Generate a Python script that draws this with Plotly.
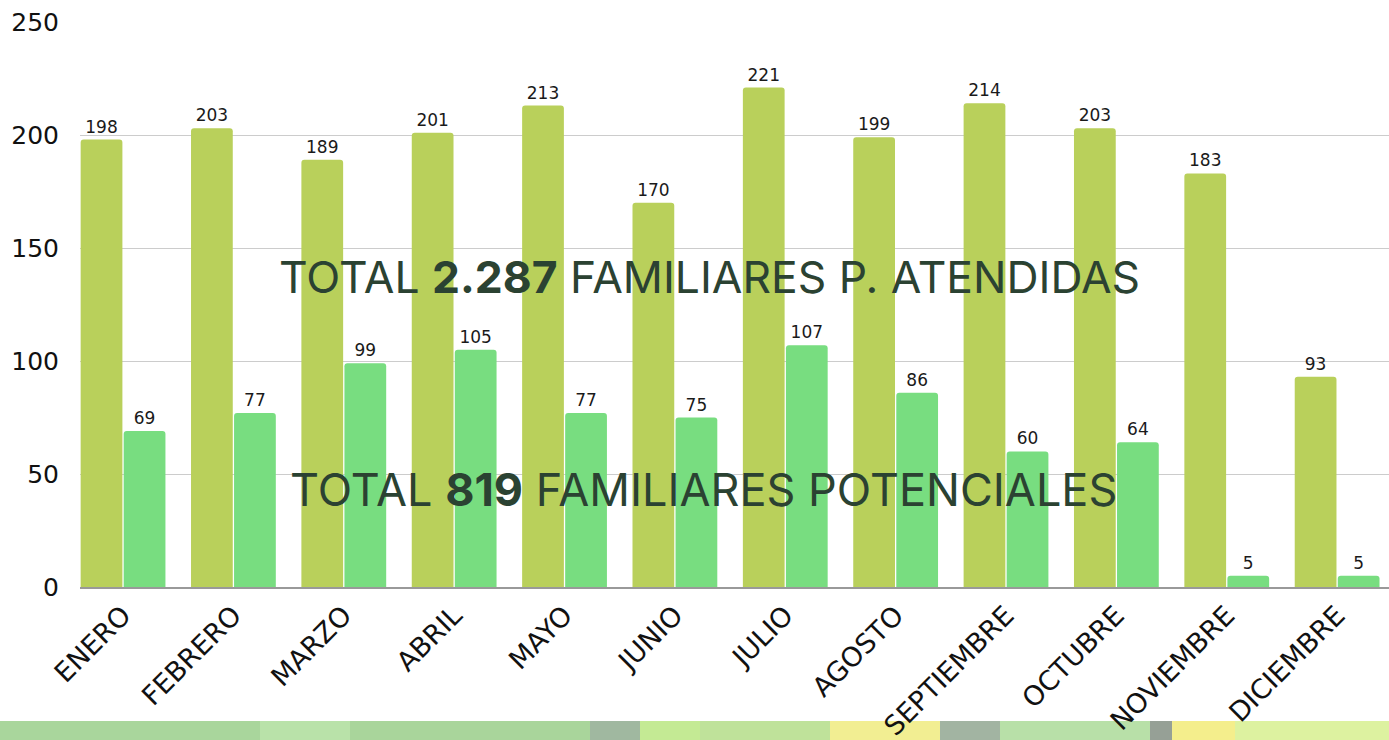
import plotly.graph_objects as go

meses = ["ENERO", "FEBRERO", "MARZO", "ABRIL", "MAYO", "JUNIO", "JULIO",
         "AGOSTO", "SEPTIEMBRE", "OCTUBRE", "NOVIEMBRE", "DICIEMBRE"]
atendidas = [198, 203, 189, 201, 213, 170, 221, 199, 214, 203, 183, 93]
potenciales = [69, 77, 99, 105, 77, 75, 107, 86, 60, 64, 5, 5]
y_ticks = [0, 50, 100, 150, 200, 250]

total_atendidas = "2.287"
total_potenciales = "819"

COL_A = "#b9d05b"
COL_B = "#78dd80"
TXT = "#2b4232"
FONT = "DejaVu Sans"

fig = go.Figure()
for vals, col in [(atendidas, COL_A), (potenciales, COL_B)]:
    fig.add_trace(go.Bar(
        x=meses, y=vals, marker=dict(color=col, cornerradius=3, line=dict(width=0)),
        text=[str(v) for v in vals], textposition="outside", cliponaxis=False,
        textfont=dict(family=FONT, size=17, color="#1a1a1a"),
        hoverinfo="skip",
    ))

fig.add_annotation(
    x=0.5, xref="paper", y=137, yref="y", showarrow=False,
    text=f"TOTAL <b>{total_atendidas}</b> FAMILIARES P. ATENDIDAS",
    font=dict(family="Inter", size=44.4, color=TXT), xshift=-25,
)
fig.add_annotation(
    x=0.5, xref="paper", y=43, yref="y", showarrow=False,
    text=f"TOTAL <b>{total_potenciales}</b> FAMILIARES POTENCIALES",
    font=dict(family="Inter", size=45, color=TXT), xshift=-31,
)

# decorative strip at the bottom (background image approximation)
strip = [(0, 260, "#a9d69c"), (260, 350, "#b9e2a9"), (350, 590, "#a9d59b"),
         (590, 640, "#a0b8a0"), (640, 700, "#c4ea94"), (700, 830, "#bfe29a"),
         (830, 940, "#f2ee92"), (940, 1000, "#a2b4a2"), (1000, 1150, "#b8e0a8"),
         (1150, 1172, "#96a096"), (1172, 1235, "#f4ee8c"), (1235, 1389, "#ddf2a0")]
for x0, x1, c in strip:
    fig.add_shape(type="rect", xref="paper", yref="paper",
                  x0=(x0 - 80) / 1309, x1=(x1 - 80) / 1309,
                  y0=-(740 - 587) / 565, y1=-(721 - 587) / 565,
                  fillcolor=c, line=dict(width=0), layer="below")

fig.update_layout(
    width=1389, height=740,
    margin=dict(l=80, r=0, t=22, b=153),
    paper_bgcolor="white", plot_bgcolor="white",
    barmode="group", bargap=0.22, bargroupgap=0.03,
    showlegend=False,
    xaxis=dict(range=[-0.39, 11.47], tickangle=-45, showgrid=False,
               showline=True, linecolor="#999999", linewidth=1.5,
               tickfont=dict(family=FONT, size=27, color="#111111"),
               ticks=""),
    yaxis=dict(range=[0, 250], tickvals=y_ticks, showgrid=True,
               gridcolor="#cccccc", gridwidth=1, zeroline=False,
               tickfont=dict(family=FONT, size=25, color="#111111"),
               ticklabelstandoff=20),
)

fig.write_html("out.html", config={"displayModeBar": False},
               post_script="document.body.style.margin='0';document.body.style.overflow='hidden';")
